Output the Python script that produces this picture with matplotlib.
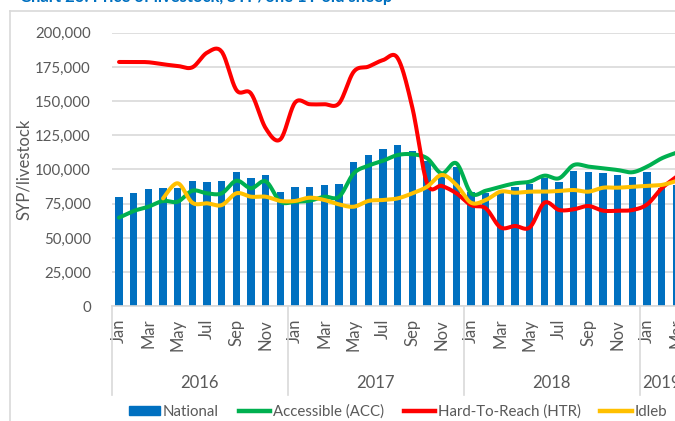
"""Livestock price chart: national bars with ACC / HTR / Idleb smoothed lines."""

import numpy as np
import matplotlib

matplotlib.use("Agg")
import matplotlib.pyplot as plt
from matplotlib.lines import Line2D
from matplotlib.patches import Patch
from matplotlib.ticker import FuncFormatter
import matplotlib.transforms as mtransforms

plt.rcParams["font.family"] = ["Lato", "DejaVu Sans"]

MONTHS = ["Jan", "Feb", "Mar", "Apr", "May", "Jun",
          "Jul", "Aug", "Sep", "Oct", "Nov", "Dec"]
YEARS = ["2016", "2017", "2018", "2019"]
MONTHS_PER_YEAR = [12, 12, 12, 3]

national = [80000, 83000, 85500, 86700, 86700, 91800, 90600, 91800, 98200, 93800, 95800, 83300,
            87400, 87400, 88700, 89400, 105300, 110800, 114700, 117700, 113300, 106300, 95000, 102000,
            83800, 82600, 83800, 87400, 89200, 93600, 91100, 99100, 98400, 97200, 96000, 94700,
            98400, 86300, 88700]
accessible = [64800, 69700, 72800, 77000, 76500, 84500, 82600, 82600, 91800, 86300, 91300, 76500,
              76500, 77200, 80100, 80100, 97200, 102800, 106400, 110600, 111100, 108200, 97200, 104500,
              82600, 84500, 87400, 89900, 91100, 95500, 93600, 103300, 102100, 100900, 99600, 98000,
              102100, 108200, 112300]
hard_to_reach = [178600, 178600, 178400, 176900, 175700, 174700, 185400, 186100, 158100, 155500, 130100, 122100,
                 148900, 147700, 147700, 148400, 171500, 175200, 180000, 181300, 145000, 89900, 88000, 82600,
                 74000, 71600, 57700, 58700, 57700, 75700, 70400, 70900, 73300, 69900, 69900, 70400,
                 74500, 86300, 94700]
idleb = [np.nan, np.nan, np.nan, 78900, 89900, 75700, 75300, 74000, 82600, 80100, 80100, 77000,
         77000, 79400, 77700, 74500, 72800, 77000, 77700, 78900, 82600, 87400, 96000, 88700,
         75700, 77700, 83800, 83000, 83800, 83800, 84300, 85000, 83800, 86700, 86700, 87400,
         88000, 88700, 91600]

BAR_COLOR = "#0070C0"
ACC_COLOR = "#00B050"
HTR_COLOR = "#FF0000"
IDL_COLOR = "#FFC000"
GRID = "#D9D9D9"
TEXT = "#595959"

W, H = 675, 421


def smooth_line(x, y, steps=20):
    # Catmull-Rom style smoothing (like Excel's "smoothed line")
    x = np.asarray(x, float)
    y = np.asarray(y, float)
    ok = np.isfinite(y)
    x, y = x[ok], y[ok]
    xs, ys = [], []
    n = len(x)
    for i in range(n - 1):
        p0 = (x[max(i - 1, 0)], y[max(i - 1, 0)])
        p1 = (x[i], y[i])
        p2 = (x[i + 1], y[i + 1])
        p3 = (x[min(i + 2, n - 1)], y[min(i + 2, n - 1)])
        t = np.linspace(0, 1, steps, endpoint=(i == n - 2))
        for k in range(2):
            a0, a1, a2, a3 = p0[k], p1[k], p2[k], p3[k]
            v = 0.5 * ((2 * a1) + (-a0 + a2) * t
                       + (2 * a0 - 5 * a1 + 4 * a2 - a3) * t ** 2
                       + (-a0 + 3 * a1 - 3 * a2 + a3) * t ** 3)
            (xs if k == 0 else ys).append(v)
    return np.concatenate(xs), np.concatenate(ys)


fig = plt.figure(figsize=(W / 100, H / 100), dpi=100)
fig.patch.set_facecolor("white")

ax_left, ax_right = 111.7, 683.8
ax_top, ax_bot = 32.7, 306.3
ax = fig.add_axes([ax_left / W, 1 - ax_bot / H,
                   (ax_right - ax_left) / W, (ax_bot - ax_top) / H])

x = np.arange(len(national))
ax.bar(x, national, width=0.5, color=BAR_COLOR, zorder=2)
for vals, color in [(accessible, ACC_COLOR), (hard_to_reach, HTR_COLOR), (idleb, IDL_COLOR)]:
    sx, sy = smooth_line(x, vals)
    ax.plot(sx, sy, color=color, lw=2.9, solid_capstyle="round", zorder=3)

ax.set_xlim(-0.5, len(national) - 0.5)
ax.set_ylim(0, 200000)
ax.set_yticks(np.arange(0, 200001, 25000))
ax.yaxis.set_major_formatter(FuncFormatter(lambda v, p: f"{int(v):,}"))
ax.grid(axis="y", color=GRID, lw=1.2, zorder=0)
ax.set_axisbelow(True)
for side in ["top", "right", "left"]:
    ax.spines[side].set_visible(False)
ax.spines["bottom"].set_color(GRID)
ax.spines["bottom"].set_linewidth(1.2)
ax.tick_params(axis="y", length=0, pad=15, labelsize=10.8, labelcolor=TEXT)

# month labels, every other month
tick_pos = [i for i in x if i % 2 == 0]
tick_lab = [MONTHS[i % 12] for i in tick_pos]
ax.set_xticks(tick_pos)
ax.set_xticklabels(tick_lab, rotation=90, fontsize=12, color=TEXT)
ax.tick_params(axis="x", length=0, pad=9)

ax.set_ylabel("SYP/livestock", fontsize=12, color=TEXT)
ax.yaxis.set_label_coords(-(ax_left - 32) / (ax_right - ax_left), 0.5)

# year groups with dividers
trans = mtransforms.blended_transform_factory(ax.transData, ax.transAxes)
axh = ax_bot - ax_top
div_bottom = -(395 - ax_bot) / axh
year_y = -(382.5 - ax_bot) / axh
start = -0.5
for yr, n in zip(YEARS, MONTHS_PER_YEAR):
    ax.plot([start, start], [0, div_bottom], color=GRID, lw=1.2,
            transform=trans, clip_on=False)
    ax.text(start + n / 2, year_y, yr, transform=trans, ha="center", va="center",
            fontsize=12, color=TEXT)
    start += n

# legend
handles = [
    Patch(facecolor=BAR_COLOR, edgecolor=BAR_COLOR),
    Line2D([], [], color=ACC_COLOR, lw=3.2),
    Line2D([], [], color=HTR_COLOR, lw=3.2),
    Line2D([], [], color=IDL_COLOR, lw=3.2),
]
labels = ["National", "Accessible (ACC)", "Hard-To-Reach (HTR)", "Idleb"]
fig.legend(handles, labels, loc="center", bbox_to_anchor=(398 / W, 1 - 411.5 / H),
           ncol=4, frameon=False, fontsize=10.8, handlelength=2.1, handleheight=0.6,
           handletextpad=0.2, columnspacing=1.3, labelcolor=TEXT)

# chart frame and cut-off title
fig.add_artist(Line2D([9.5 / W, 9.5 / W], [0, 1 - 11 / H], color=GRID, lw=1.2))
fig.add_artist(Line2D([9.5 / W, 1], [1 - 11 / H, 1 - 11 / H], color=GRID, lw=1.2))
fig.text(20 / W, 1 - 2 / H, "Chart 23: Price of livestock, SYP/one 1Y old sheep",
         color=BAR_COLOR, fontsize=12, fontweight="bold", ha="left", va="baseline")

fig.savefig("out.png", dpi=100, facecolor="white")
